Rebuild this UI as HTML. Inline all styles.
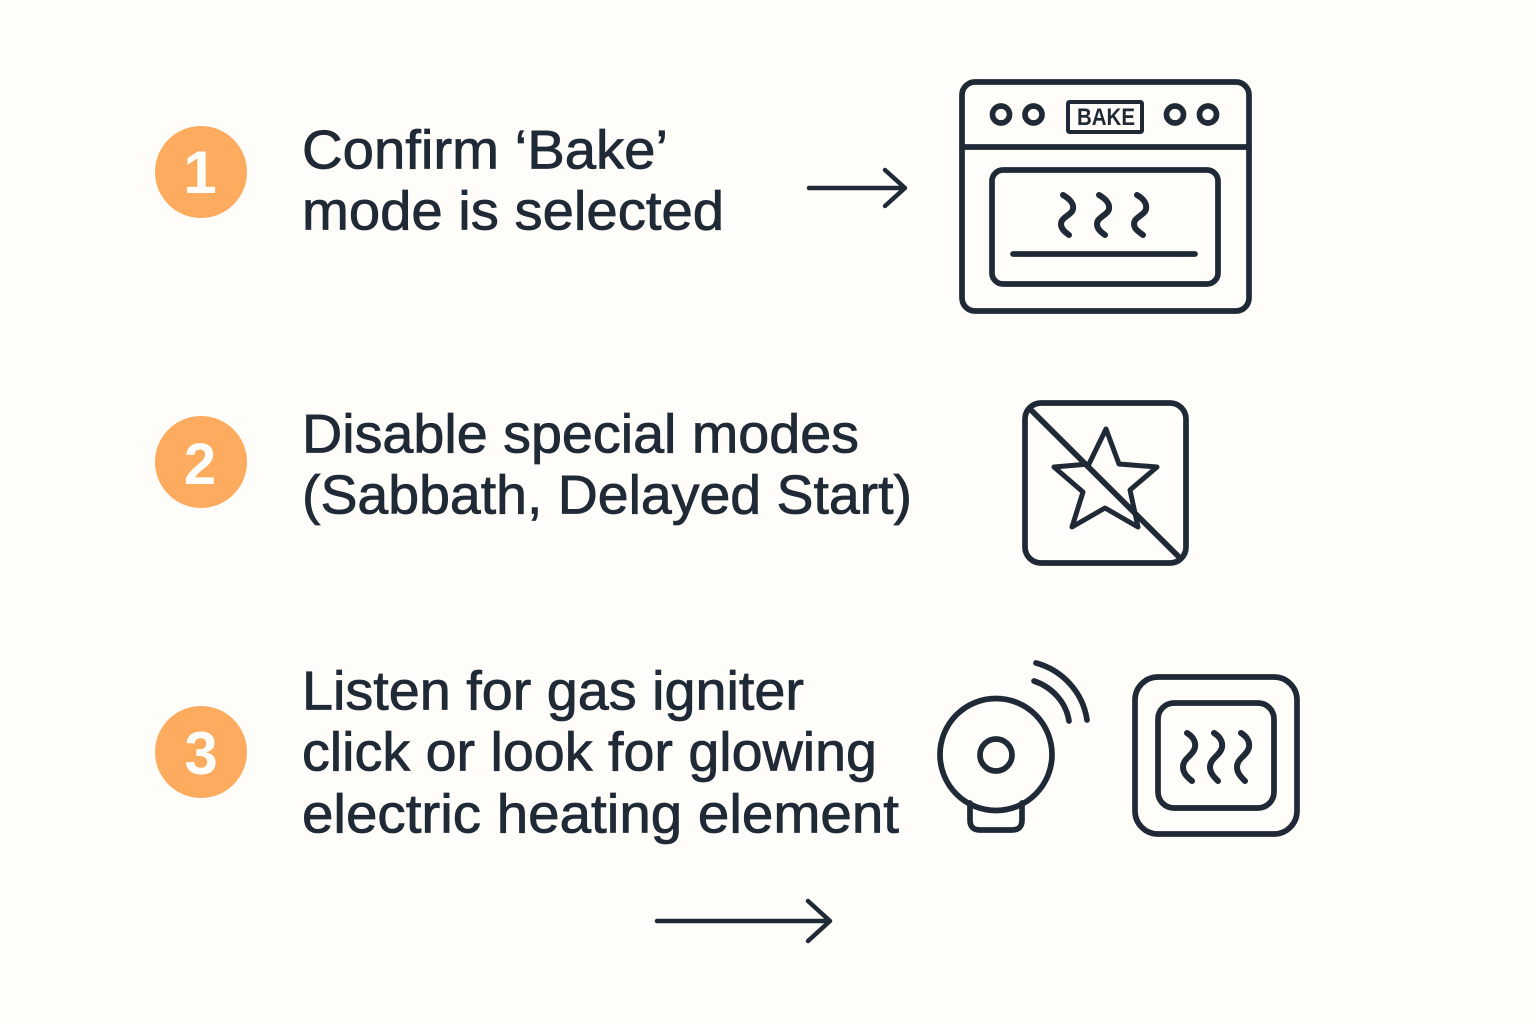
<!DOCTYPE html>
<html>
<head>
<meta charset="utf-8">
<style>
html,body{margin:0;padding:0;background:#fffdf9;}
svg{display:block;}
text{font-family:"Liberation Sans",sans-serif;fill:#1f2a36;}
.t{font-size:55px;stroke:#1f2a36;stroke-width:.8px;}
.n{font-size:62px;font-weight:bold;fill:#fffdf9;text-anchor:middle;}
.s{fill:none;stroke:#1f2a36;stroke-width:5.7;stroke-linecap:round;stroke-linejoin:round;}
</style>
</head>
<body>
<svg width="1536" height="1024" viewBox="0 0 1536 1024" xmlns="http://www.w3.org/2000/svg">
<rect width="1536" height="1024" fill="#fffdf9"/>

<circle cx="201" cy="172" r="46" fill="#fdab5e"/>
<circle cx="201" cy="462" r="46" fill="#fdab5e"/>
<circle cx="201" cy="752" r="46" fill="#fdab5e"/>
<text class="n" x="200" y="193" style="font-size:60px">1</text>
<text class="n" x="200" y="484" style="font-size:58px">2</text>
<text class="n" x="201" y="774" style="font-size:60px">3</text>

<text class="t" x="302" y="168.5" textLength="366" lengthAdjust="spacingAndGlyphs">Confirm ‘Bake’</text>
<text class="t" x="302" y="229.5" textLength="422" lengthAdjust="spacingAndGlyphs">mode is selected</text>
<text class="t" x="302" y="452.5" textLength="557" lengthAdjust="spacingAndGlyphs">Disable special modes</text>
<text class="t" x="302" y="513.5" textLength="610" lengthAdjust="spacingAndGlyphs">(Sabbath, Delayed Start)</text>
<text class="t" x="302" y="709.5" textLength="502" lengthAdjust="spacingAndGlyphs">Listen for gas igniter</text>
<text class="t" x="302" y="770.5" textLength="575" lengthAdjust="spacingAndGlyphs">click or look for glowing</text>
<text class="t" x="302" y="832.5" textLength="597" lengthAdjust="spacingAndGlyphs">electric heating element</text>

<path class="s" style="stroke-width:4.5" d="M809 188H904M885 170L905 188L885 206"/>
<path class="s" style="stroke-width:4.5" d="M657 921H830M808 901L830 921L808 941"/>

<!-- oven -->
<rect class="s" x="962" y="82" width="287" height="229" rx="13"/>
<path class="s" d="M962 147H1249"/>
<circle class="s" cx="1001" cy="114.5" r="8.5"/>
<circle class="s" cx="1033.5" cy="114.5" r="8.5"/>
<circle class="s" cx="1175" cy="114.5" r="8.5"/>
<circle class="s" cx="1208" cy="114.5" r="8.5"/>
<rect class="s" style="stroke-width:4" x="1068" y="102" width="74" height="30" rx="1.5"/>
<text x="1077" y="125" font-size="24" font-weight="bold" textLength="58" lengthAdjust="spacingAndGlyphs">BAKE</text>
<rect class="s" x="992" y="170" width="226" height="114" rx="11"/>
<path class="s" d="M1013 254H1195"/>
<path class="s" style="stroke-width:6" d="M1063 195C1070 199 1074 204 1073 209C1072 215 1061 217 1061 224C1061 229 1065 232 1069 235"/>
<path class="s" style="stroke-width:6" d="M1099 195C1106 199 1110 204 1109 209C1108 215 1097 217 1097 224C1097 229 1101 232 1105 235"/>
<path class="s" style="stroke-width:6" d="M1137 195C1144 199 1147 204 1146 209C1145 215 1134 217 1134 224C1134 229 1139 232 1143 235"/>

<!-- star -->
<rect class="s" x="1025" y="403" width="161" height="160" rx="16"/>
<path class="s" d="M1030 409L1178 556"/>
<path class="s" style="stroke-width:5" d="M1106 429L1119 464L1157 467L1130 490L1138 527L1105 508L1072 527L1083 492L1054 467L1089 464Z"/>

<!-- igniter -->
<circle class="s" cx="996" cy="754.5" r="56"/>
<circle class="s" cx="996" cy="755" r="16"/>
<path class="s" d="M970 803V820Q970 830 980 830H1012Q1022 830 1022 820V803"/>
<path class="s" d="M1034 681C1052 687 1066 702 1069 721"/>
<path class="s" d="M1036 663C1062 670 1083 692 1087 720"/>

<!-- element -->
<rect class="s" x="1135" y="677" width="162" height="157" rx="23"/>
<rect class="s" x="1158" y="703" width="116" height="105" rx="16"/>
<path class="s" style="stroke-width:6" d="M1187 733C1192 736 1196 741 1195 747C1194 755 1183 758 1183 767C1183 773 1187 777 1192 781"/>
<path class="s" style="stroke-width:6" d="M1214 733C1219 736 1223 741 1222 747C1221 755 1210 758 1210 767C1210 773 1214 777 1218 781"/>
<path class="s" style="stroke-width:6" d="M1241 733C1246 736 1250 741 1249 747C1248 755 1237 758 1237 767C1237 773 1241 777 1245 781"/>
</svg>
</body>
</html>
